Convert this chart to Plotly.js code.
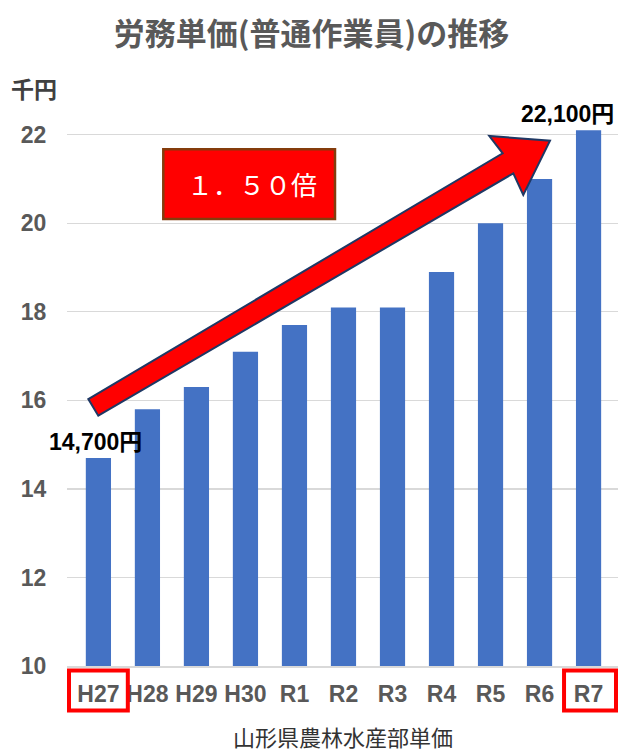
<!DOCTYPE html>
<html>
<head>
<meta charset="utf-8">
<script src="https://cdn.plot.ly/plotly-3.0.1.min.js"></script>
<style>html,body{margin:0;padding:0;background:#fff;}#chart{width:623px;height:751px;}</style>
</head>
<body>
<div id="chart"></div>
<script>
// ---- data ----
var categories = ['H27','H28','H29','H30','R1','R2','R3','R4','R5','R6','R7'];
var values = [14.7, 15.8, 16.3, 17.1, 17.7, 18.1, 18.1, 18.9, 20.0, 21.0, 22.1];
var titleText = '労務単価(普通作業員)の推移';
var unitText = '千円';
var ratioText = '１．５０倍';
var sourceText = '山形県農林水産部単価';
var tickVals = [10, 12, 14, 16, 18, 20, 22];

// ---- layout geometry ----
var W = 623, H = 751;
var M = {l: 67, r: 5, t: 117, b: 85};
var PW = W - M.l - M.r, PH = H - M.t - M.b;
function PX(x) { return (x - M.l) / PW; }
function PY(y) { return (H - M.b - y) / PH; }

var gray = '#595959';
var sansB = 'Liberation Sans Narrow, Liberation Sans, Arial, Noto Sans CJK JP, sans-serif';
var sansL = 'Liberation Sans, Arial, Noto Sans CJK JP, sans-serif';
var cjk = 'Noto Sans CJK JP, sans-serif';

function yen(v) { return Math.round(v * 1000).toLocaleString('en-US') + '円'; }

var trace = {
  type: 'bar',
  x: categories,
  y: values,
  marker: {color: '#4472C4'},
  hoverinfo: 'none'
};

// arrow polygon (pixel positions -> paper)
var arrowPts = [[88.3,399],[502.7,153.3],[489.3,136],[550,140.7],[523.3,195],[513.3,173.3],[98.3,415.7]];
var arrowPath = 'M ' + arrowPts.map(function(p){ return PX(p[0]).toFixed(4) + ',' + PY(p[1]).toFixed(4); }).join(' L ') + ' Z';

var last = categories.length - 1;

var layout = {
  width: W, height: H,
  margin: M,
  paper_bgcolor: '#fff',
  plot_bgcolor: '#fff',
  bargap: 0.486,
  showlegend: false,
  title: {
    text: titleText,
    font: {family: cjk, size: 31, color: gray, weight: 'bold'},
    x: 0.5, xref: 'container', xanchor: 'center',
    y: 1 - 34 / H, yref: 'container', yanchor: 'middle'
  },
  xaxis: {
    type: 'category',
    tickfont: {family: sansB, size: 23, color: gray, weight: 'bold'},
    ticks: 'outside', ticklen: 7, tickcolor: 'rgba(0,0,0,0)',
    showline: true, linecolor: '#d9d9d9', linewidth: 1.5,
    showgrid: false, fixedrange: true
  },
  yaxis: {
    range: [10, 22.4],
    tickvals: tickVals,
    tickfont: {family: sansB, size: 23, color: gray, weight: 'bold'},
    ticks: 'outside', ticklen: 15, tickcolor: 'rgba(0,0,0,0)',
    showgrid: true, gridcolor: '#d9d9d9', gridwidth: 1.3,
    zeroline: false, showline: false, fixedrange: true
  },
  shapes: [
    {type: 'path', xref: 'paper', yref: 'paper', path: arrowPath,
     fillcolor: '#ff0000', line: {color: '#1f3864', width: 2}, layer: 'above'},
    {type: 'rect', xref: 'paper', yref: 'paper',
     x0: PX(163.3), x1: PX(335), y0: PY(219), y1: PY(149.3),
     fillcolor: '#ff0000', line: {color: '#843C0C', width: 2.5}, layer: 'above'},
    {type: 'rect', xref: 'x', yref: 'paper', x0: -0.6, x1: 0.6, y0: -0.008, y1: -0.081,
     fillcolor: 'rgba(0,0,0,0)', line: {color: '#ff0000', width: 4}},
    {type: 'rect', xref: 'x', yref: 'paper', x0: last - 0.5, x1: last + 0.56, y0: -0.008, y1: -0.081,
     fillcolor: 'rgba(0,0,0,0)', line: {color: '#ff0000', width: 4}}
  ],
  annotations: [
    {text: unitText, xref: 'paper', yref: 'paper', x: PX(34), y: PY(88),
     xanchor: 'center', yanchor: 'middle', showarrow: false,
     font: {family: cjk, size: 23, color: '#404040', weight: 'bold'}},
    {text: yen(values[0]), xref: 'paper', yref: 'paper', x: PX(95), y: PY(442),
     xanchor: 'center', yanchor: 'middle', showarrow: false,
     font: {family: sansL, size: 23, color: '#000', weight: 'bold'}},
    {text: yen(values[last]), xref: 'paper', yref: 'paper', x: PX(567), y: PY(114),
     xanchor: 'center', yanchor: 'middle', showarrow: false,
     font: {family: sansL, size: 23, color: '#000', weight: 'bold'}},
    {text: ratioText, xref: 'paper', yref: 'paper', x: PX(252), y: PY(184),
     xanchor: 'center', yanchor: 'middle', showarrow: false,
     font: {family: cjk, size: 26, color: '#fff'}},
    {text: sourceText, xref: 'paper', yref: 'paper', x: PX(343), y: PY(736),
     xanchor: 'center', yanchor: 'middle', showarrow: false,
     font: {family: cjk, size: 22, color: '#333'}}
  ]
};

Plotly.newPlot('chart', [trace], layout, {displayModeBar: false, staticPlot: true});
</script>
</body>
</html>
